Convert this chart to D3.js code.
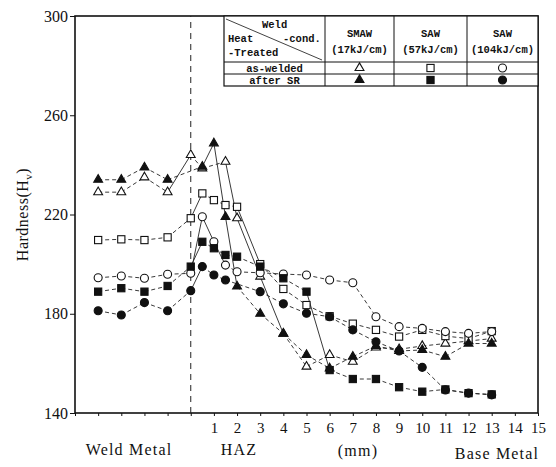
<!DOCTYPE html>
<html>
<head>
<meta charset="utf-8">
<script src="https://cdn.jsdelivr.net/npm/d3@7"></script>
<style>
  body { margin: 0; background: #fff; }
  svg { display: block; }
  .axisText { font-family: "Liberation Serif", "DejaVu Serif", serif; fill: #111; }
  .tbl { font-family: "Liberation Mono", "DejaVu Sans Mono", monospace; font-weight: bold; font-size: 10.5px; fill: #111; }
</style>
</head>
<body>
<script>
// Hardness profiles, [distance (mm, negative = weld metal), Hv]
const smawAsWelded = [[-4,229],[-3,229],[-2,235],[-1,229],[0,244],[0.5,238.6],[1.5,241.3],[2,218.5],[3,195],[4,172],[5,158.7],[6,163.4],[7,160.7],[8,166.4],[9,165.7],[10,167],[11,168],[12,169],[13,170]];
const sawMidAsWelded = [[-4,209.7],[-3,210],[-2,209.7],[-1,210.8],[0,218.5],[0.5,228.5],[1,225.8],[1.5,223.8],[2,223.1],[3,200],[4,190],[5,183.5],[6,179],[7,176],[8,173.5],[9,170.8],[10,173.5],[11,171],[12,170],[13,173]];
const sawHighAsWelded = [[-4,194.5],[-3,195.2],[-2,194.3],[-1,195.9],[0,196.3],[0.5,219.1],[1,209],[1.5,199.6],[2,196.9],[3,196.5],[4,196],[5,195.6],[6,193.6],[7,192.5],[8,178.8],[9,174.8],[10,174.1],[11,172.8],[12,172.1],[13,172.8]];
const smawAfterSR = [[-4,234],[-3,234],[-2,239],[-1,234],[0.5,239.3],[1,248.7],[1.5,219],[2,191],[3,180],[4,172],[5,163.4],[6,158],[7,162.7],[8,167],[9,165],[10,165.4],[11,162.7],[12,168],[13,168]];
const sawMidAfterSR = [[-4,188.9],[-3,190.3],[-2,188.9],[-1,191.2],[0,199],[0.5,209],[1,206.4],[1.5,203.7],[2,203],[3,199],[4,194.3],[5,188.9],[6,157.3],[7,153.7],[8,153.7],[9,150.4],[10,148.6],[11,149.5],[12,148],[13,147.5]];
const sawHighAfterSR = [[-4,181.2],[-3,179.5],[-2,184.5],[-1,181.2],[0,189.3],[0.5,199],[1,195.6],[1.5,193.6],[3,188.9],[4,184],[5,180.2],[6,178.8],[7,173.5],[8,168.7],[9,165],[10,158.4],[11,149.3],[12,148],[13,147.3]];

const yTicks = [140, 180, 220, 260, 300];
const xTickLabels = d3.range(1, 16);
const weldCols = ['SMAW', 'SAW', 'SAW'];
const heatInputs = ['(17kJ/cm)', '(57kJ/cm)', '(104kJ/cm)'];
const treatRows = ['as-welded', 'after SR'];

let series = [
    {data: smawAsWelded, shape: 'tri', fill: false},
    {data: sawMidAsWelded, shape: 'sq', fill: false},
    {data: sawHighAsWelded, shape: 'circ', fill: false},
    {data: smawAfterSR, shape: 'tri', fill: true},
    {data: sawMidAfterSR, shape: 'sq', fill: true},
    {data: sawHighAfterSR, shape: 'circ', fill: true}
];

let svg = d3.select('body').append('svg')
    .attr('width', 556)
    .attr('height', 467);

let x = d3.scaleLinear().domain([-5, 15]).range([75, 538]),
    y = d3.scaleLinear().domain([140, 300]).range([413, 16]);

// Frame
svg.append('rect')
    .attr('x', x(-5)).attr('y', y(300))
    .attr('width', x(15) - x(-5)).attr('height', y(140) - y(300))
    .attr('fill', 'none').attr('stroke', '#111').attr('stroke-width', 1.6);

// Y axis
let yAxis = svg.append('g')
    .attr('transform', 'translate(' + x(-5) + ',0)')
    .call(d3.axisLeft(y).tickValues(yTicks).tickSize(5).tickPadding(2));
yAxis.select('.domain').remove();
yAxis.selectAll('line').attr('stroke', '#111');
yAxis.selectAll('text').attr('class', 'axisText').attr('font-size', 16).attr('fill', '#111');

// X axis: ticks at every mm, labels only in the HAZ/base metal side
let xAxis = svg.append('g')
    .attr('transform', 'translate(0,' + y(140) + ')')
    .call(d3.axisBottom(x).tickValues(d3.range(-5, 16)).tickSize(3).tickPadding(6)
        .tickFormat((d) => xTickLabels.includes(d) ? d : ''));
xAxis.select('.domain').remove();
xAxis.selectAll('line').attr('stroke', '#111');
xAxis.selectAll('text').attr('class', 'axisText').attr('font-size', 15).attr('fill', '#111');

// Fusion line
svg.append('line')
    .attr('x1', x(0)).attr('x2', x(0))
    .attr('y1', y(140)).attr('y2', y(300))
    .attr('stroke', '#222').attr('stroke-width', 1)
    .attr('stroke-dasharray', '6,5');

// Axis titles
svg.append('text')
    .attr('class', 'axisText')
    .attr('transform', 'translate(28,' + ((y(140) + y(300)) / 2) + ') rotate(-90)')
    .attr('text-anchor', 'middle')
    .attr('font-size', 16)
    .attr('letter-spacing', 0.5)
    .html('Hardness(H<tspan font-size="11" dy="4">v</tspan><tspan dy="-4">)</tspan>');

let bottomLabels = [['Weld Metal', 129, 455], ['HAZ', 239, 455], ['(mm)', 358, 456], ['Base Metal', 497, 459]];
svg.selectAll('.bottomLabel')
    .data(bottomLabels)
    .enter().append('text')
    .attr('class', 'axisText')
    .attr('text-anchor', 'middle')
    .attr('font-size', 16)
    .attr('letter-spacing', 1.2)
    .attr('x', (d) => d[1])
    .attr('y', (d) => d[2])
    .text((d) => d[0]);

// Markers
function drawMarker(g, shape, fill, cx, cy) {
    let m;
    if (shape === 'tri') {
        m = g.append('path').attr('d', d3.symbol(d3.symbolTriangle, 34)());
    } else if (shape === 'sq') {
        m = g.append('rect').attr('x', -3.6).attr('y', -3.6).attr('width', 7.2).attr('height', 7.2);
    } else {
        m = g.append('circle').attr('r', 4);
    }
    m.attr('transform', 'translate(' + cx + ',' + cy + ')')
        .attr('fill', fill ? '#111' : '#fff')
        .attr('stroke', '#111')
        .attr('stroke-width', 1.1);
}

// Lines: steep segments solid, flat ones dashed
series.forEach((s) => {
    let g = svg.append('g');
    d3.pairs(s.data).forEach((p) => {
        let x1 = x(p[0][0]), y1 = y(p[0][1]), x2 = x(p[1][0]), y2 = y(p[1][1]);
        g.append('line')
            .attr('x1', x1).attr('y1', y1).attr('x2', x2).attr('y2', y2)
            .attr('stroke', '#222').attr('stroke-width', 0.9)
            .attr('stroke-dasharray', Math.abs(y2 - y1) > 1.5 * Math.abs(x2 - x1) ? null : '4,3');
    });
});
series.forEach((s) => {
    let g = svg.append('g');
    s.data.forEach((d) => drawMarker(g, s.shape, s.fill, x(d[0]), y(d[1])));
});

// Legend table
let tb = {left: 224, right: x(15), top: y(300), head: 62, row1: 74, row2: 86},
    cols = [tb.left, 325, 394, 467, tb.right],
    legend = svg.append('g');

legend.append('rect')
    .attr('x', tb.left).attr('y', tb.top)
    .attr('width', tb.right - tb.left).attr('height', tb.row2 - tb.top)
    .attr('fill', '#fff').attr('stroke', '#111').attr('stroke-width', 1.2);
[tb.head, tb.row1].forEach((yy) => {
    legend.append('line')
        .attr('x1', tb.left).attr('x2', tb.right).attr('y1', yy).attr('y2', yy)
        .attr('stroke', '#111').attr('stroke-width', 1);
});
cols.slice(1, 4).forEach((xx) => {
    legend.append('line')
        .attr('x1', xx).attr('x2', xx).attr('y1', tb.top).attr('y2', tb.row2)
        .attr('stroke', '#111').attr('stroke-width', 1);
});
legend.append('line')
    .attr('x1', tb.left + 2).attr('y1', tb.top + 3).attr('x2', cols[1] - 3).attr('y2', tb.head - 2)
    .attr('stroke', '#111').attr('stroke-width', 0.8);

let headText = [['Weld', 262, 28], ['Heat', 228, 42], ['-cond.', 283, 42], ['-Treated', 228, 56]];
legend.selectAll('.headText')
    .data(headText)
    .enter().append('text')
    .attr('class', 'tbl')
    .attr('x', (d) => d[1]).attr('y', (d) => d[2])
    .text((d) => d[0]);

weldCols.forEach((c, i) => {
    let cx = (cols[i + 1] + cols[i + 2]) / 2;
    legend.append('text').attr('class', 'tbl').attr('text-anchor', 'middle')
        .attr('x', cx).attr('y', 37).text(c);
    legend.append('text').attr('class', 'tbl').attr('text-anchor', 'middle')
        .attr('x', cx).attr('y', 53).text(heatInputs[i]);
});
treatRows.forEach((r, j) => {
    let yy = j === 0 ? (tb.head + tb.row1) / 2 : (tb.row1 + tb.row2) / 2;
    legend.append('text').attr('class', 'tbl').attr('text-anchor', 'middle')
        .attr('x', (cols[0] + cols[1]) / 2).attr('y', yy + 3.5).text(r);
    series.slice(j * 3, j * 3 + 3).forEach((s, i) => {
        drawMarker(legend, s.shape, s.fill, (cols[i + 1] + cols[i + 2]) / 2, yy);
    });
});
</script>
</body>
</html>
